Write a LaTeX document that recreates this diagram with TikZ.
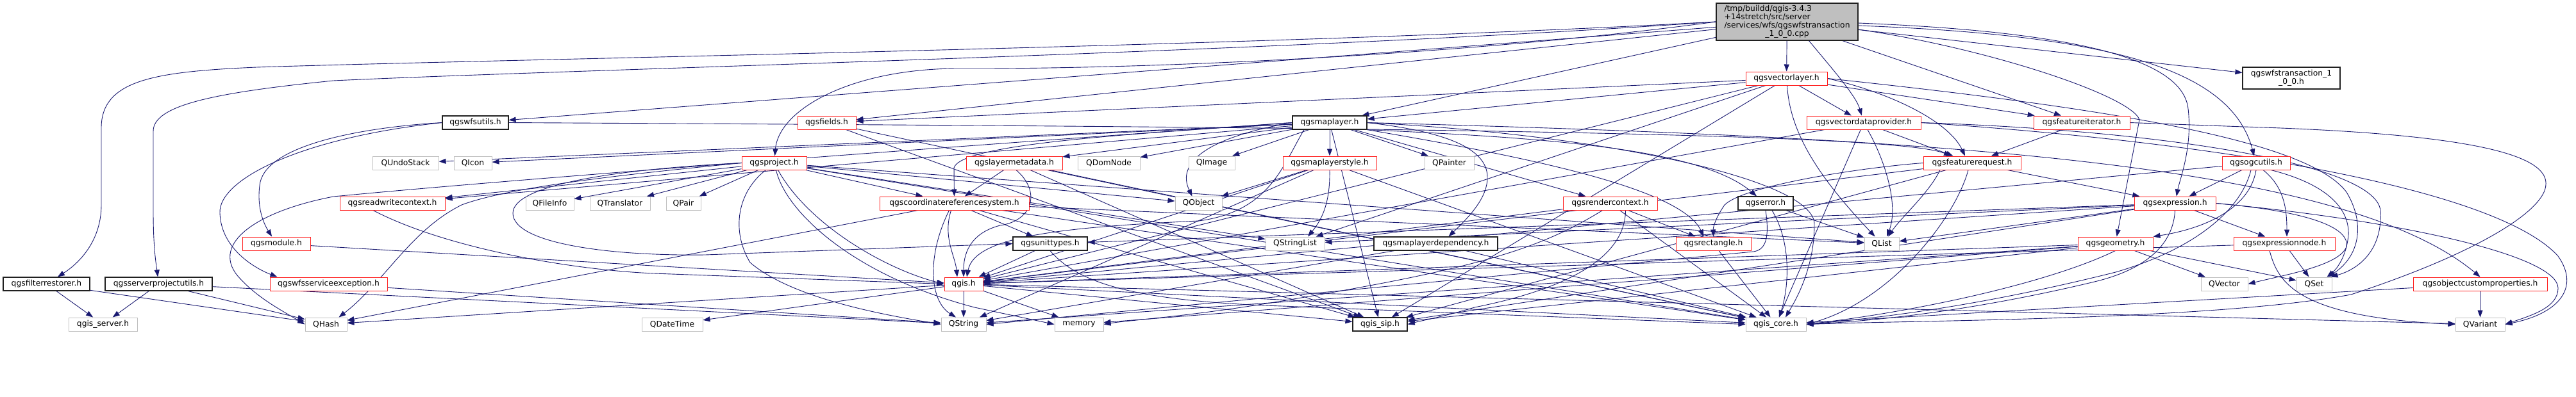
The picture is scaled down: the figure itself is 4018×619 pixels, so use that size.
\documentclass[tikz,border=0pt]{standalone}
\usepackage{fontspec}
\setmainfont{DejaVu Sans}
\usetikzlibrary{arrows.meta,backgrounds}
\definecolor{eblue}{HTML}{191970}
\definecolor{nred}{HTML}{FF2020}
\definecolor{ngray}{HTML}{BFBFBF}
\definecolor{nblack}{HTML}{202020}
\begin{document}
\begin{tikzpicture}[x=1pt,y=-1pt,
  nb/.style={draw, fill=white, inner sep=0pt, minimum height=21pt, line width=1pt, font=\fontsize{12.3}{12.4}\selectfont},
  rn/.style={nb, draw=nred},
  gn/.style={nb, draw=ngray},
  bn/.style={nb, draw=nblack, line width=1.2pt},
  dep/.style={draw=eblue, line width=0.9pt, -{Triangle[length=11pt,width=8pt]}},
]
\useasboundingbox (0,0) rectangle (4018,619);
% ---------- nodes ----------
\node[bn, fill=ngray, minimum width=221pt, minimum height=58pt] (main) at (2787.5,34) {\begin{tabular}{@{}l@{}}/tmp/buildd/qgis-3.4.3\\+14stretch/src/server\\/services/wfs/qgswfstransaction\\\multicolumn{1}{@{}c@{}}{\_1\_0\_0.cpp}\end{tabular}};
\node[rn, minimum width=127pt] (VL) at (2786.5,122.5) {qgsvectorlayer.h};
\node[bn, minimum width=152pt, minimum height=34pt] (WT) at (3574,122) {\begin{tabular}{@{}c@{}}qgswfstransaction\_1\\\_0\_0.h\end{tabular}};
% row 2
\node[bn, minimum width=103pt] (WU) at (741.5,191.5) {qgswfsutils.h};
\node[rn, minimum width=91pt] (FLD) at (1289.5,191.5) {qgsfields.h};
\node[bn, minimum width=116pt] (ML) at (2074,191.5) {qgsmaplayer.h};
\node[rn, minimum width=178pt] (VDP) at (2907,191.5) {qgsvectordataprovider.h};
\node[rn, minimum width=150pt] (FI) at (3247,191.5) {qgsfeatureiterator.h};
% row 3
\node[gn, minimum width=103pt] (QUS) at (632.5,254.5) {QUndoStack};
\node[gn, minimum width=59pt] (QIC) at (737.5,254.5) {QIcon};
\node[rn, minimum width=101pt] (PRJ) at (1207.5,254.5) {qgsproject.h};
\node[rn, minimum width=150pt] (LMD) at (1582,254.5) {qgslayermetadata.h};
\node[gn, minimum width=97pt] (QDN) at (1729.5,254.5) {QDomNode};
\node[gn, minimum width=72pt] (QIM) at (1890,254.5) {QImage};
\node[rn, minimum width=146pt] (MLS) at (2074,254.5) {qgsmaplayerstyle.h};
\node[gn, minimum width=77pt] (QPA) at (2260.5,254.5) {QPainter};
\node[rn, minimum width=152pt] (FREQ) at (3076,254.5) {qgsfeaturerequest.h};
\node[rn, minimum width=106pt] (OGC) at (3519,254.5) {qgsogcutils.h};
% row 4
\node[rn, minimum width=164pt] (RWC) at (612,317.5) {qgsreadwritecontext.h};
\node[gn, minimum width=75pt] (QFI) at (857.5,317.5) {QFileInfo};
\node[gn, minimum width=94pt] (QTR) at (967,317.5) {QTranslator};
\node[gn, minimum width=54pt] (QPR) at (1066,317.5) {QPair};
\node[rn, minimum width=233pt] (CRS) at (1488.5,317.5) {qgscoordinatereferencesystem.h};
\node[gn, minimum width=73pt] (QOB) at (1869.5,317.5) {QObject};
\node[rn, minimum width=147pt] (RC) at (2511.5,317.5) {qgsrendercontext.h};
\node[bn, minimum width=86pt] (ERR) at (2754,317.5) {qgserror.h};
\node[rn, minimum width=127pt] (EXP) at (3392.5,317.5) {qgsexpression.h};
% row 5
\node[rn, minimum width=106pt] (MOD) at (431,380.5) {qgsmodule.h};
\node[bn, minimum width=116pt] (UT) at (1638,380.5) {qgsunittypes.h};
\node[gn, minimum width=92pt] (QSL) at (2020,380.5) {QStringList};
\node[bn, minimum width=193pt] (MLD) at (2239.5,380.5) {qgsmaplayerdependency.h};
\node[rn, minimum width=117pt] (RECT) at (2672.5,380.5) {qgsrectangle.h};
\node[gn, minimum width=54pt] (QLI) at (2935,380.5) {QList};
\node[rn, minimum width=117pt] (GEO) at (3299.5,380.5) {qgsgeometry.h};
\node[rn, minimum width=158pt] (EN) at (3563,380.5) {qgsexpressionnode.h};
% row 6
\node[bn, minimum width=135pt] (FR) at (72.5,443.5) {qgsfilterrestorer.h};
\node[bn, minimum width=167pt] (SPU) at (247.5,443.5) {qgsserverprojectutils.h};
\node[rn, minimum width=183pt] (WSE) at (512.5,443.5) {qgswfsserviceexception.h};
\node[rn, minimum width=60pt] (QGIS) at (1503,443.5) {qgis.h};
\node[gn, minimum width=73pt] (QVE) at (3469.5,443.5) {QVector};
\node[gn, minimum width=55pt] (QSE) at (3609.5,443.5) {QSet};
\node[rn, minimum width=209pt] (OCP) at (3868.5,443.5) {qgsobjectcustomproperties.h};
% row 7
\node[gn, minimum width=107pt] (QGS) at (160.5,506.5) {qgis\_server.h};
\node[gn, minimum width=65pt] (QHA) at (508.5,506.5) {QHash};
\node[gn, minimum width=95pt] (QDT) at (1048.5,506.5) {QDateTime};
\node[gn, minimum width=70pt] (QST) at (1503,506.5) {QString};
\node[gn, minimum width=76pt] (MEM) at (1683,506.5) {memory};
\node[bn, minimum width=85pt] (SIP) at (2152.5,506.5) {qgis\_sip.h};
\node[gn, minimum width=94pt] (CORE) at (2770,506.5) {qgis\_core.h};
\node[gn, minimum width=77pt] (QVA) at (3868.5,506.5) {QVariant};
% ---------- edges ----------
\begin{scope}[on background layer]
% main
\draw[dep] (main.west) .. controls (2000,72) and (800,92) .. (400,105) .. controls (240,112) and (158,125) .. (158,200) -- (158,320) .. controls (158,375) and (125,410) .. (FR);
\draw[dep] (main.west) .. controls (2000,82) and (900,108) .. (520,126) .. controls (330,145) and (239,165) .. (239,205) -- (239,330) .. controls (239,390) and (244,415) .. (SPU);
\draw[dep] (main) -- (WU);
\draw[dep] (main) -- (FLD);
\draw[dep] (main.west) .. controls (2300,85) and (1800,108) .. (1500,107) .. controls (1330,106) and (1215,170) .. (PRJ);
\draw[dep] (main) -- (ML);
\draw[dep] (main) -- (VL);
\draw[dep] ([xshift=34pt]main.south) .. controls (2860,110) and (2895,150) .. (VDP);
\draw[dep] (main) -- (FI);
\draw[dep] (main) -- (WT);
\draw[dep] ([yshift=-6pt]main.east) .. controls (3300,55) and (3480,110) .. (OGC);
\draw[dep] ([yshift=-2pt]main.east) .. controls (3250,50) and (3405,95) .. (3413,170) .. controls (3420,230) and (3400,280) .. (EXP);
\draw[dep] ([yshift=-12pt]main.east) .. controls (3100,75) and (3325,150) .. (3337,187) -- (GEO);
% qgswfsutils
\draw[dep] (WU.west) .. controls (550,200) and (410,230) .. (405,290) .. controls (400,330) and (415,355) .. (MOD);
\draw[dep] (WU.west) .. controls (470,215) and (340,280) .. (343,333) .. controls (345,390) and (400,420) .. ([xshift=-80pt]WSE.north);
\draw[dep] (WU.east) .. controls (2000,198) and (2950,205) .. ([xshift=-33pt]FREQ.north);
% left bottom
\draw[dep] (FR) -- (QGS);
\draw[dep] (FR) -- (QHA);
\draw[dep] (SPU) -- (QGS);
\draw[dep] (SPU) -- (QHA);
\draw[dep] (SPU) -- (QST);
\draw[dep] (MOD) -- (QGIS);
\draw[dep] (WSE) -- (QST);
% qgsfields
\draw[dep] (FLD) -- (CORE);
\draw[dep] (FLD) -- (SIP);
% qgsmaplayer
\draw[dep] (ML) -- (QUS);
\draw[dep] (ML) -- (QIC);
\draw[dep] (ML) -- (QDN);
\draw[dep] (ML) -- (QIM);
\draw[dep] (ML) -- (QPA);
\draw[dep] (ML) -- (LMD);
\draw[dep] (ML) -- (MLS);
\draw[dep] (ML) -- (RWC);
\draw[dep] (ML) -- (RC);
\draw[dep] (ML) -- (SIP);
\draw[dep] (ML.west) .. controls (1880,215) and (1835,255) .. ([xshift=-10pt]QOB.north);
\draw[dep] (ML.west) .. controls (1800,208) and (1500,222) .. (1488,262) -- (CRS);
\draw[dep] (ML.south east) .. controls (2400,215) and (2650,230) .. ([xshift=-14pt]ERR.north);
\draw[dep] (ML.east) .. controls (2250,205) and (2320,230) .. (2320,277) .. controls (2320,310) and (2290,340) .. ([xshift=20pt]MLD.north);
\draw[dep] (ML.south east) .. controls (2350,240) and (2620,290) .. ([xshift=-15pt]RECT.north);
\draw[dep] ([xshift=-40pt]ML.south) .. controls (2000,260) and (1980,330) .. (1870,345) .. controls (1650,355) and (1520,370) .. ([xshift=5pt]QGIS.north);
\draw[dep] (ML.east) .. controls (2500,210) and (2830,280) .. (2830,350) .. controls (2830,420) and (2800,470) .. ([xshift=15pt]CORE.north);
\draw[dep] (ML.west) .. controls (1400,235) and (800,280) .. (520,307) .. controls (400,330) and (330,380) .. (370,430) .. controls (400,465) and (440,485) .. (QHA.west);
\draw[dep] (ML.east) .. controls (3000,215) and (3650,250) .. (OCP.north);
% qgsvectorlayer
\draw[dep] (VL) -- (FLD);
\draw[dep] (VL) -- (ML);
\draw[dep] (VL) -- (VDP);
\draw[dep] (VL) -- (FI);
\draw[dep] (VL) -- (QSL);
\draw[dep] (VL.east) .. controls (2950,145) and (3040,190) .. ([xshift=-11pt]FREQ.north);
\draw[dep] ([xshift=1pt]VL.south) .. controls (2792,210) and (2840,280) .. (QLI);
\draw[dep] (VL.east) .. controls (3300,170) and (3600,220) .. (3660,300) .. controls (3690,350) and (3680,400) .. ([xshift=22pt]QSE.north);
\draw[dep] (VL) -- (QGIS);
\draw[dep] (VL) -- (SIP);
% qgsproject
\draw[dep] (PRJ) -- (QFI);
\draw[dep] (PRJ) -- (QTR);
\draw[dep] (PRJ) -- (QPR);
\draw[dep] (PRJ) -- (RWC);
\draw[dep] (PRJ) -- (CRS);
\draw[dep] (PRJ) -- (CORE);
\draw[dep] (PRJ) -- (QLI);
\draw[dep] (PRJ) -- (QOB);
\draw[dep] (PRJ) -- (QSL);
\draw[dep] (PRJ.west) .. controls (1000,270) and (800,290) .. (720,320) .. controls (640,360) and (600,440) .. ([xshift=20pt]QHA.north);
\draw[dep] (PRJ.west) .. controls (950,265) and (800,290) .. (800,333) .. controls (800,380) and (950,400) .. (1100,398) -- (UT.west);
\draw[dep] ([xshift=-13pt]PRJ.south) .. controls (1150,300) and (1140,360) .. (1170,410) .. controls (1240,470) and (1400,495) .. (QST.west);
\draw[dep] ([xshift=3pt]PRJ.south) .. controls (1225,330) and (1330,430) .. (1520,480) -- (MEM.west);
\draw[dep] ([xshift=6pt]PRJ.south) .. controls (1260,350) and (1380,420) .. (QGIS.west);
% qgslayermetadata
\draw[dep] (LMD) -- (CRS);
\draw[dep] ([xshift=3pt]LMD.south) .. controls (1625,300) and (1610,345) .. (1560,352) .. controls (1510,365) and (1503,400) .. (QGIS.north);
\draw[dep] (LMD) -- (SIP);
\draw[dep] (LMD) -- (CORE);
% qgsmaplayerstyle
\draw[dep] (MLS.south) .. controls (2075,320) and (2060,345) .. ([xshift=20pt]QSL.north);
\draw[dep] (MLS) -- (QOB);
\draw[dep] (MLS) -- (QGIS);
\draw[dep] (MLS) -- (QST);
\draw[dep] (MLS) -- (CORE);
% crs
\draw[dep] (CRS) -- (UT);
\draw[dep] ([xshift=-5pt]CRS.south) .. controls (1470,370) and (1490,400) .. ([xshift=-10pt]QGIS.north);
\draw[dep] ([xshift=-8pt]CRS.south) .. controls (1445,400) and (1450,470) .. ([xshift=-12pt]QST.north);
\draw[dep] (CRS) -- (QHA);
\draw[dep] (CRS) -- (CORE);
\draw[dep] (CRS) -- (SIP);
\draw[dep] (CRS) -- (QLI);
% readwritecontext, unittypes, dependency
\draw[dep] ([xshift=-30pt]RWC.south) .. controls (700,390) and (900,422) .. (1020,427) -- (QGIS.west);
\draw[dep] (UT) -- (QGIS);
\draw[dep] (UT.south) .. controls (1680,440) and (1760,470) .. (2000,478) -- (CORE.west);
\draw[dep] (MLD) -- (CORE);
\draw[dep] (MLD) -- (QST);
% rendercontext
\draw[dep] (RC) -- (RECT);
\draw[dep] (RC) -- (CORE);
\draw[dep] (RC) -- (QGIS);
\draw[dep] ([xshift=24pt]RC.south) .. controls (2535,400) and (2450,450) .. (2300,480) .. controls (2250,495) and (2220,500) .. (SIP.east);
\draw[dep] ([xshift=-12pt]RC.south) .. controls (2400,390) and (2300,420) .. (2000,470) .. controls (1850,495) and (1760,500) .. (MEM.east);
% error, rectangle
\draw[dep] (ERR) -- (QLI);
\draw[dep] ([xshift=10pt]ERR.south) .. controls (2795,380) and (2790,450) .. ([xshift=5pt]CORE.north);
\draw[dep] (ERR.south) .. controls (2760,370) and (2755,390) .. (2735,393) -- (QST.east);
\draw[dep] (RECT) -- (CORE);
% featurerequest
\draw[dep] (FREQ) -- (EXP);
\draw[dep] (FREQ.west) .. controls (2900,262) and (2720,290) .. (2690,320) .. controls (2676,340) and (2672,355) .. (RECT.north);
\draw[dep] ([xshift=-50pt]FREQ.south) .. controls (3010,300) and (2965,340) .. ([xshift=10pt]QLI.north);
\draw[dep] ([xshift=-6pt]FREQ.south) .. controls (3050,340) and (2950,470) .. (CORE.east);
\draw[dep] (FREQ) -- (SIP);
\draw[dep] (FREQ) -- (QGIS);
% featureiterator
\draw[dep] (FI) -- (FREQ);
\draw[dep] (FI.east) -- (3500,198) .. controls (3900,210) and (3990,250) .. (3968,300) .. controls (3950,340) and (3850,400) .. (3667,460) .. controls (3450,500) and (3000,500) .. (CORE.east);
% vectordataprovider
\draw[dep] (VDP) -- (FREQ);
\draw[dep] ([xshift=6pt]VDP.south) .. controls (2940,250) and (2962,320) .. ([xshift=8pt]QLI.north);
\draw[dep] (VDP.east) .. controls (3400,205) and (3710,260) .. (3713,330) .. controls (3716,390) and (3680,420) .. ([xshift=26pt]QSE.north);
\draw[dep] (VDP.east) .. controls (3500,225) and (3900,300) .. (3990,400) .. controls (4025,450) and (3990,490) .. (QVA.east);
\draw[dep] (VDP) -- (CORE);
\draw[dep] (VDP) -- (QGIS);
% expression
\draw[dep] (EXP) -- (EN);
\draw[dep] (EXP) -- (QSL);
\draw[dep] (EXP) -- (UT);
\draw[dep] (EXP) -- (QGIS);
\draw[dep] (EXP) -- (QLI);
\draw[dep] (EXP) -- (SIP);
\draw[dep] (EXP.east) .. controls (3600,330) and (3665,355) .. (3660,385) .. controls (3650,415) and (3560,430) .. (QVE.east);
\draw[dep] (EXP.east) .. controls (3750,345) and (3990,400) .. (3990,450) .. controls (3990,480) and (3950,492) .. (QVA.east);
\draw[dep] (EXP.south) .. controls (3390,380) and (3350,420) .. (3267,440) .. controls (3100,480) and (2950,500) .. (CORE.east);
% expressionnode
\draw[dep] (EN) -- (QSE);
\draw[dep] (EN) -- (QGIS);
\draw[dep] ([xshift=-23pt]EN.south) .. controls (3553,440) and (3580,495) .. (QVA.west);
% geometry
\draw[dep] (GEO) -- (QVE);
\draw[dep] (GEO) -- (QSE);
\draw[dep] (GEO) -- (SIP);
\draw[dep] (GEO) -- (QGIS);
\draw[dep] (GEO) -- (QST);
\draw[dep] (GEO) -- (MEM);
\draw[dep] (GEO.south) .. controls (3200,440) and (3000,485) .. (CORE.east);
% ogcutils
\draw[dep] (OGC) -- (EXP);
\draw[dep] (OGC.south) .. controls (3510,320) and (3450,355) .. (GEO.north east);
\draw[dep] ([xshift=11pt]OGC.south) .. controls (3560,290) and (3567,320) .. ([xshift=4pt]EN.north);
\draw[dep] ([xshift=23pt]OGC.south) .. controls (3620,285) and (3665,320) .. (3663,367) .. controls (3660,400) and (3645,420) .. ([xshift=20pt]QSE.north);
\draw[dep] ([xshift=-8pt]OGC.south) .. controls (3495,330) and (3420,390) .. (3300,425) .. controls (3100,475) and (2950,495) .. (CORE.east);
\draw[dep] (OGC) -- (QGIS);
% objectcustomproperties
\draw[dep] (OCP) -- (QVA);
\draw[dep] (OCP) -- (CORE);
% qgis.h
\draw[dep] (QGIS) -- (QST);
\draw[dep] (QGIS) -- (MEM);
\draw[dep] (QGIS) -- (QHA);
\draw[dep] (QGIS) -- (QDT);
\draw[dep] (QGIS) -- (QVA);
\draw[dep] (QGIS) -- (CORE);
\draw[dep] (QGIS) -- (SIP);
\end{scope}
\end{tikzpicture}
\end{document}
